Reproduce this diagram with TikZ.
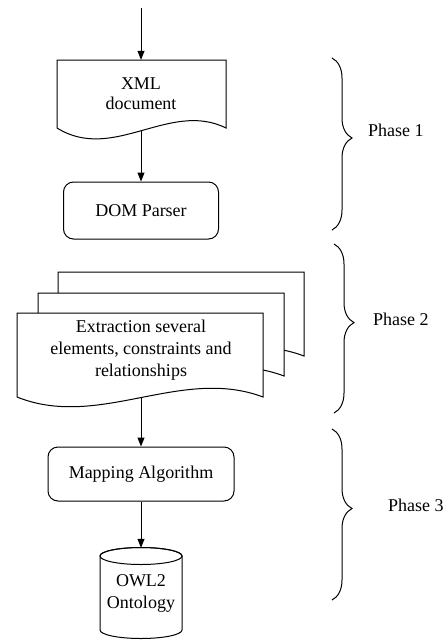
\documentclass[tikz,border=0pt]{standalone}
\usepackage{fontspec}
\setmainfont{Liberation Serif}
\usetikzlibrary{arrows.meta,decorations.pathreplacing,backgrounds}

% document symbol: left, top, right, bottom edge y, wave rise, wave dip
\newcommand{\docoutline}[6]{%
  \filldraw[outline] (#1,#2) -- (#3,#2) -- (#3,#4)
    .. controls ({#3-(#3-#1)/3},{#4-#5}) and ({#1+(#3-#1)/3},{#4+#6}) .. (#1,#4) -- cycle;}

\tikzset{
  outline/.style={draw=black, fill=white, line width=1pt, line join=miter},
  label/.style={inner sep=0pt, align=center, font=\fontsize{18}{22}\selectfont},
  boxarea/.style={label, draw=none},
  procbox/.style={label, draw=black, fill=white, line width=1pt, rounded corners=10pt},
  conn/.style={line width=1pt, -{Triangle[length=9pt,width=7pt]}},
  phasebrace/.style={line width=1pt, decorate,
    decoration={brace, amplitude=20pt, aspect=0.465}},
  phase/.style={inner sep=0pt, anchor=west, font=\fontsize{18}{22}\selectfont},
}

\begin{document}
\begin{tikzpicture}[x=1pt, y=-1pt]
\useasboundingbox (0,0) rectangle (446,641);

% XML document
\docoutline{57}{60}{226}{128}{28}{35}
\node[boxarea, minimum width=169pt, minimum height=68pt,
      font=\fontsize{18}{20}\selectfont] (xml) at (141,94) {XML\\document};

% DOM parser
\node[procbox, minimum width=155pt, minimum height=57pt] (dom) at (141,210.5) {DOM Parser};

% stacked documents
\docoutline{58}{272}{304}{356}{31}{33}
\docoutline{38}{293}{284}{376}{31}{33}
\docoutline{17}{313}{263}{397}{31}{33}
\node[boxarea, minimum width=246pt, minimum height=75pt] (ext) at (141,350.5)
  {Extraction several\\elements, constraints and\\relationships};

% mapping algorithm
\node[procbox, minimum width=186pt, minimum height=54pt] (map) at (141,474) {Mapping Algorithm};

% OWL2 ontology store
\filldraw[outline] (100,556) -- (100,630) arc[start angle=180, end angle=360, x radius=41pt, y radius=8.5pt]
  -- (182,556) arc[start angle=0, end angle=180, x radius=41pt, y radius=8.5pt];
\draw[line width=1pt] (141,556) ellipse[x radius=41pt, y radius=8.5pt];
\node[boxarea, minimum width=82pt, minimum height=90pt] (owl) at (141,593) {OWL2\\Ontology};

% connectors
\coordinate (in) at (141,8);
\begin{scope}[on background layer]
  \draw[conn] (in) -- (xml.north);
  \draw[conn] (xml.south) -- (dom.north);
  \draw[conn] (ext.south) -- (map.north);
  \draw[conn] (map.south) -- (owl.north);
\end{scope}

% phases
\draw[phasebrace] (332,58) -- (332,230);
\draw[phasebrace] (334,244) -- (334,413);
\draw[phasebrace] (332,429) -- (332,600);
\node[phase] (p1) at (368,130) {Phase 1};
\node[phase] (p2) at (373,319) {Phase 2};
\node[phase] (p3) at (388,505) {Phase 3};
\end{tikzpicture}
\end{document}
